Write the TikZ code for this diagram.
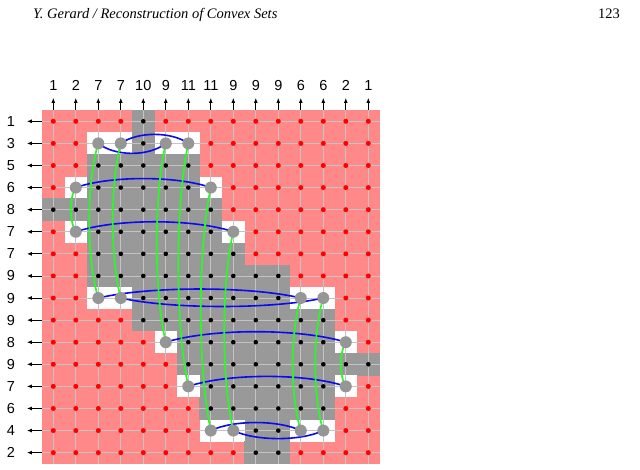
\documentclass[tikz,border=0pt]{standalone}
\usepackage{fontspec}
\setmainfont{Liberation Serif}
\newfontfamily\lsans{Liberation Sans}
\usetikzlibrary{arrows.meta}
\definecolor{pinkbg}{RGB}{255,136,136}
\definecolor{setgray}{RGB}{153,153,153}
\definecolor{ptgray}{RGB}{150,150,150}
\definecolor{gridc}{RGB}{195,195,195}
\definecolor{arcblue}{RGB}{10,10,240}
\definecolor{arcgreen}{RGB}{40,250,40}
\definecolor{dotred}{RGB}{255,0,0}
\pgfdeclarelayer{bg}
\pgfdeclarelayer{arcs}
\pgfsetlayers{bg,arcs,main}
\tikzset{
  lbl/.style={font=\lsans\fontsize{14.5}{16}\selectfont, inner sep=0pt},
  arr/.style={line width=0.8pt, -{Latex[length=5pt,width=4pt]}},
  gpt/.style={circle, fill=ptgray, minimum size=12pt, inner sep=0pt},
  barc/.style={arcblue, line width=1.6pt},
  garc/.style={arcgreen, line width=1.7pt},
  gline/.style={gridc, line width=0.7pt}
}
\begin{document}
\begin{tikzpicture}
\useasboundingbox (0pt,0pt) rectangle (640pt,-469pt);
\node[anchor=base west, font=\fontsize{14.5}{16}\selectfont\itshape, inner sep=0pt] (hdr) at (33pt,-18.3pt) {Y. Gerard / Reconstruction of Convex Sets};
\node[anchor=base east, font=\fontsize{14.5}{16}\selectfont, inner sep=0pt] (pg) at (620pt,-18.3pt) {123};
\begin{scope}[x=22.5pt, y=-22.09pt, shift={(30.8pt,-99.21pt)}]
\begin{pgfonlayer}{bg}
\fill[pinkbg] (0.5,0.5) rectangle (15.5,16.5);
\foreach \r/\ga/\a/\b/\gb in {1/5/5/5/5, 2/3/5/5/7, 3/3/3/7/7, 4/2/3/7/8, 5/1/1/8/8, 6/2/3/8/9, 7/3/3/9/9, 8/3/3/11/11, 9/3/5/11/13, 10/5/5/13/13, 11/6/7/13/14, 12/7/7/15/15, 13/7/8/13/14, 14/8/8/13/13, 15/8/10/11/13, 16/10/10/11/11} {
  \fill[setgray] (\a-0.51,\r-0.51) rectangle (\b+0.51,\r+0.51);
  \ifnum\ga<\a \fill[white] (\ga-0.5,\r-0.5) rectangle (\a-0.5,\r+0.5); \fi
  \ifnum\gb>\b \fill[white] (\b+0.5,\r-0.5) rectangle (\gb+0.5,\r+0.5); \fi
}
\foreach \c in {1,...,15} \draw[gline] (\c,0.5) -- (\c,16.5);
\foreach \r in {1,...,16} \draw[gline] (0.5,\r) -- (15.5,\r);
\foreach \r/\ga/\a/\b/\gb in {1/5/5/5/5, 2/3/5/5/7, 3/3/3/7/7, 4/2/3/7/8, 5/1/1/8/8, 6/2/3/8/9, 7/3/3/9/9, 8/3/3/11/11, 9/3/5/11/13, 10/5/5/13/13, 11/6/7/13/14, 12/7/7/15/15, 13/7/8/13/14, 14/8/8/13/13, 15/8/10/11/13, 16/10/10/11/11} {
  \foreach \c in {1,...,15} {
    \ifnum\c<\ga \fill[dotred] (\c,\r) circle[radius=2.5pt]; \fi
    \ifnum\c>\gb \fill[dotred] (\c,\r) circle[radius=2.5pt]; \fi
  }
  \foreach \c in {\a,...,\b} \fill[black] (\c,\r) circle[radius=2.3pt];
}
\end{pgfonlayer}
% labels and arrows
\foreach \v [count=\c] in {1,2,7,7,10,9,11,11,9,9,9,6,6,2,1} {
  \node[lbl] (cl\c) at (\c,-0.61) {\v};
  \coordinate (ct\c) at (\c,0.5);
  \coordinate (ch\c) at (\c,-0.055);
  \draw[arr] (ct\c) -- (ch\c);
}
\foreach \v [count=\r] in {1,3,5,6,8,7,7,9,9,9,8,9,7,6,4,2} {
  \node[lbl] (rl\r) at (-0.884,\r) {\v};
  \coordinate (rs\r) at (0.5,\r);
  \coordinate (rh\r) at (-0.17,\r);
  \draw[arr] (rs\r) -- (rh\r);
}
% undetermined points
\foreach \r/\c in {2/3,2/4,2/6,2/7,4/2,4/8,6/2,6/9,9/3,9/4,9/12,9/13,11/6,11/14,13/7,13/14,15/8,15/9,15/12,15/13}
  \node[gpt] (g\r-\c) at (\c,\r) {};
\begin{pgfonlayer}{arcs}
% blue (rows)
\draw[barc] (g2-4.center) .. controls +(16.9pt,12pt) and +(-16.9pt,12pt) .. (g2-7.center);
\draw[barc] (g2-3.center) .. controls +(16.9pt,-13.3pt) and +(-16.9pt,-13.3pt) .. (g2-6.center);
\draw[barc] (g4-2.center) .. controls +(33.8pt,12pt) and +(-33.8pt,12pt) .. (g4-8.center);
\draw[barc] (g6-2.center) .. controls +(39.4pt,13.3pt) and +(-39.4pt,13.3pt) .. (g6-9.center);
\draw[barc] (g9-3.center) .. controls +(50.6pt,12pt) and +(-50.6pt,12pt) .. (g9-12.center);
\draw[barc] (g9-4.center) .. controls +(50.6pt,-11.3pt) and +(-50.6pt,-11.3pt) .. (g9-13.center);
\draw[barc] (g11-6.center) .. controls +(45pt,14pt) and +(-45pt,14pt) .. (g11-14.center);
\draw[barc] (g13-7.center) .. controls +(39.4pt,13.3pt) and +(-39.4pt,13.3pt) .. (g13-14.center);
\draw[barc] (g15-8.center) .. controls +(22.5pt,10.7pt) and +(-22.5pt,10.7pt) .. (g15-12.center);
\draw[barc] (g15-9.center) .. controls +(22.5pt,-10.7pt) and +(-22.5pt,-10.7pt) .. (g15-13.center);
% green (columns)
\draw[garc] (g4-2.center) .. controls +(-6.7pt,-11pt) and +(-6.7pt,11pt) .. (g6-2.center);
\draw[garc] (g2-3.center) .. controls +(-12pt,-38.7pt) and +(-12pt,38.7pt) .. (g9-3.center);
\draw[garc] (g2-4.center) .. controls +(-10.7pt,-38.7pt) and +(-10.7pt,38.7pt) .. (g9-4.center);
\draw[garc] (g2-6.center) .. controls +(-12pt,-49.7pt) and +(-12pt,49.7pt) .. (g11-6.center);
\draw[garc] (g2-7.center) .. controls +(-13.3pt,-60.8pt) and +(-13.3pt,60.8pt) .. (g13-7.center);
\draw[garc] (g4-8.center) .. controls +(-13.3pt,-60.8pt) and +(-13.3pt,60.8pt) .. (g15-8.center);
\draw[garc] (g6-9.center) .. controls +(-12pt,-49.7pt) and +(-12pt,49.7pt) .. (g15-9.center);
\draw[garc] (g9-12.center) .. controls +(-10.7pt,-33.1pt) and +(-10.7pt,33.1pt) .. (g15-12.center);
\draw[garc] (g9-13.center) .. controls +(-10.7pt,-33.1pt) and +(-10.7pt,33.1pt) .. (g15-13.center);
\draw[garc] (g11-14.center) .. controls +(-6.7pt,-11pt) and +(-6.7pt,11pt) .. (g13-14.center);
\end{pgfonlayer}
\end{scope}
\end{tikzpicture}
\end{document}
